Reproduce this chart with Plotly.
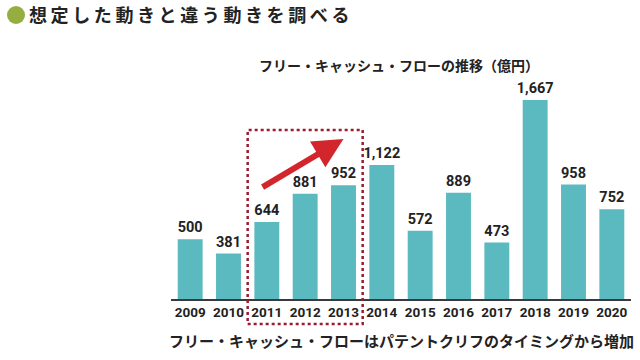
import plotly.graph_objects as go

years = ["2009", "2010", "2011", "2012", "2013", "2014", "2015", "2016", "2017", "2018", "2019", "2020"]
fcf = [500, 381, 644, 881, 952, 1122, 572, 889, 473, 1667, 958, 752]

title_text = "想定した動きと違う動きを調べる"
subtitle_text = "フリー・キャッシュ・フローの推移（億円）"
caption_text = "フリー・キャッシュ・フローはパテントクリフのタイミングから増加"

BAR = "#5bb9c0"
RED = "#d3262c"
DOT = "#9b1b30"
GREEN = "#96ad3f"

# plot area in pixels (for placing decorations in paper coords)
L, R, T, B = 171, 631, 80, 299
W, H = R - L, B - T


def px_x(p):
    return (p - L) / W


def px_y(p):
    return (B - p) / H


fig = go.Figure()
fig.add_trace(go.Bar(
    x=years, y=fcf,
    marker=dict(color=BAR, line=dict(width=0)),
    texttemplate="%{y:,}",
    textposition="outside",
    constraintext="none",
    cliponaxis=False,
    textfont=dict(family="Roboto", size=14.5, color="#222222", weight="bold"),
    hoverinfo="skip",
))

spaced_title = "\u2009".join(title_text)

fig.update_layout(
    width=640, height=360,
    margin=dict(l=L, r=640 - R, t=T, b=360 - B),
    paper_bgcolor="white", plot_bgcolor="white",
    bargap=0.35,
    showlegend=False,
    title=dict(
        text=spaced_title,
        xref="container", yref="container",
        x=29 / 640, xanchor="left", y=1 - 16 / 360, yanchor="middle",
        font=dict(family="Noto Sans CJK JP", size=18, color="#222222", weight="bold"),
    ),
    xaxis=dict(
        type="category",
        showline=True, linecolor="#3a3a3a", linewidth=2,
        ticks="", showgrid=False, zeroline=False,
        tickfont=dict(family="Roboto", size=13.5, color="#222222", weight="bold"),
        range=[-0.5, 11.5],
    ),
    yaxis=dict(
        range=[0, 1834], visible=False, showgrid=False, zeroline=False,
    ),
    font=dict(family="Noto Sans CJK JP"),
)

# green bullet before the title
fig.add_shape(
    type="circle", xref="paper", yref="paper",
    x0=px_x(7), x1=px_x(25), y0=px_y(24), y1=px_y(6),
    line=dict(width=0), fillcolor=GREEN,
)

# subtitle
fig.add_annotation(
    text=subtitle_text, xref="paper", yref="paper",
    x=px_x(399), y=px_y(65),
    xanchor="center", yanchor="middle", showarrow=False,
    font=dict(family="Noto Sans CJK JP", size=14, color="#222222", weight="bold"),
)
# caption
fig.add_annotation(
    text=caption_text, xref="paper", yref="paper",
    x=px_x(401), y=px_y(340),
    xanchor="center", yanchor="middle", showarrow=False,
    font=dict(family="Noto Sans CJK JP", size=15, color="#222222", weight="bold"),
)

# dotted highlight box around 2011-2013
fig.add_shape(
    type="rect", xref="x", yref="paper",
    x0=1.5, x1=4.5, y0=px_y(324), y1=px_y(130),
    line=dict(color=DOT, width=2.5, dash="dot"),
    fillcolor="rgba(0,0,0,0)", layer="above",
)

# red trend arrow
fig.add_annotation(
    x=4, y=1340, ax=1.85, ay=930, xref="x", yref="y", axref="x", ayref="y",
    text="", showarrow=True, arrowhead=2, arrowsize=1.0, arrowwidth=6,
    arrowcolor=RED, standoff=0,
)

fig.write_html(
    "out.html",
    config={"displayModeBar": False},
    post_script="document.body.style.margin='0';",
)
